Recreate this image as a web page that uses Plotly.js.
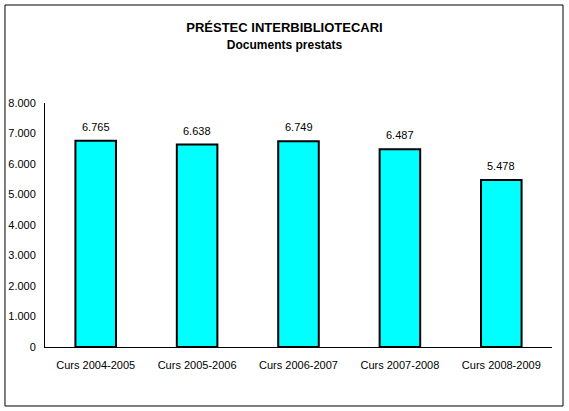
<!DOCTYPE html>
<html>
<head>
<meta charset="utf-8">
<script src="https://cdn.plot.ly/plotly-3.0.1.min.js"></script>
<style>
  body { margin: 0; background: #ffffff; }
  #chart { width: 569px; height: 411px; }
</style>
</head>
<body>
<div id="chart"></div>
<script>
// cursos acadèmics i documents prestats
var cursos = ['Curs 2004-2005', 'Curs 2005-2006', 'Curs 2006-2007', 'Curs 2007-2008', 'Curs 2008-2009'];
var documents = [6765, 6638, 6749, 6487, 5478];
var yTicks = [0, 1000, 2000, 3000, 4000, 5000, 6000, 7000, 8000];

var plotlyData = [
    {
        x: cursos,
        y: documents,
        type: 'bar',
        marker: {
            color: '#00ffff',
            line: { color: '#000000', width: 2 }
        },
        hoverinfo: 'none'
    }
];

// etiquetes de valor per sobre de cada barra
var valueLabels = [];
for(var i = 0; i < cursos.length; i++)
{
    valueLabels.push({
        x: cursos[i],
        y: documents[i],
        text: formatNumber(documents[i]),
        showarrow: false,
        yanchor: 'bottom',
        yshift: 6,
        font: { family: 'Liberation Sans, Arial, sans-serif', size: 11, color: '#000000' }
    });
}

var plotlyLayout = {
    width: 569,
    height: 411,
    separators: ',.',
    paper_bgcolor: '#ffffff',
    plot_bgcolor: '#ffffff',
    font: { family: 'Liberation Sans, Arial, sans-serif', size: 11, color: '#000000' },
    margin: { l: 45, r: 17, t: 103, b: 64 },
    showlegend: false,
    bargap: 0.6,
    title: {
        text: '<b>PRÉSTEC INTERBIBLIOTECARI</b><br><b><span style="font-size:12px">Documents prestats</span></b>',
        font: { family: 'Liberation Sans, Arial, sans-serif', size: 13, color: '#000000' },
        x: 0.5,
        xref: 'container',
        xanchor: 'center',
        y: 0.921,
        yref: 'container',
        yanchor: 'top'
    },
    xaxis: {
        showline: true,
        linecolor: '#000000',
        linewidth: 1,
        showgrid: false,
        ticks: '',
        ticklabelstandoff: 8,
        tickfont: { size: 11 },
        fixedrange: true
    },
    yaxis: {
        range: [0, 8000],
        tickvals: yTicks,
        tickformat: ',d',
        showline: true,
        linecolor: '#000000',
        linewidth: 1,
        showgrid: false,
        zeroline: false,
        ticks: '',
        ticklabelstandoff: 6,
        tickfont: { size: 11 },
        fixedrange: true
    },
    annotations: valueLabels,
    // marc exterior del gràfic
    shapes: [
        {
            type: 'rect',
            xref: 'paper', yref: 'paper',
            x0: -0.0789, x1: 1.0217,
            y0: -0.2418, y1: 1.4016,
            line: { color: '#000000', width: 1 },
            fillcolor: 'rgba(0,0,0,0)',
            layer: 'below'
        }
    ]
};

var plotlyConfig = {
    displayModeBar: false,
    staticPlot: true
};

Plotly.newPlot('chart', plotlyData, plotlyLayout, plotlyConfig);


function formatNumber(value)
{
    return value.toString().replace(/\B(?=(\d{3})+(?!\d))/g, '.');
}
</script>
</body>
</html>
